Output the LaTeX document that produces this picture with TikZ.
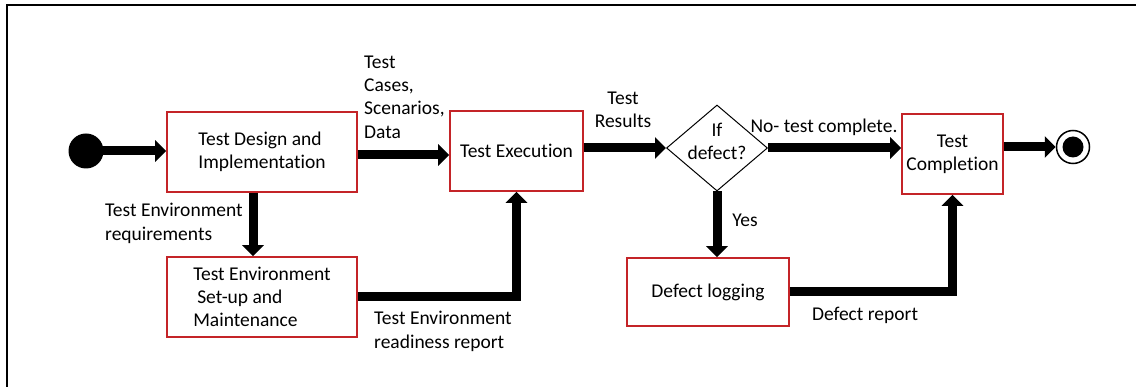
\documentclass[tikz,border=0pt]{standalone}
\usepackage{fontspec}
\setmainfont{Carlito}[Ligatures=NoCommon]
\usetikzlibrary{arrows.meta,shapes.geometric}
\definecolor{boxred}{RGB}{196,36,40}
\begin{document}
\begin{tikzpicture}[x=1pt,y=-1pt,
  every node/.style={font=\fontsize{19.5}{23.3}\selectfont},
  stepbox/.style={draw=boxred, line width=1.6pt, fill=white, inner sep=0pt, align=left},
  flow/.style={line width=9pt, -{Triangle[width=21pt,length=11pt]}},
  lbl/.style={inner sep=0pt, align=left},
]
\useasboundingbox (0,0) rectangle (1136,387);
% page frame (top and left edges)
\draw[line width=2.4pt] (1136,5) -- (7,5) -- (7,387);

% activity boxes
\node[stepbox, minimum width=190pt, minimum height=80pt] (design) at (262,152) {Test Design and\\Implementation};
\node[stepbox, minimum width=190pt, minimum height=80pt] (setup) at (262,297) {Test Environment\\\hspace{4pt}Set-up and\\Maintenance};
\node[stepbox, minimum width=133pt, minimum height=80pt] (exec) at (516.5,151) {Test Execution};
\node[stepbox, minimum width=101pt, minimum height=80pt, align=center] (comp) at (952.5,154) {Test\\Completion};
\node[stepbox, minimum width=162pt, minimum height=68pt] (defect) at (708,292) {Defect logging};

% decision
\node[diamond, draw, line width=1pt, minimum width=101pt, minimum height=86pt, inner sep=0pt] (dec) at (717,148) {};
\node[lbl, align=center] (dectext) at (717,141.5) {If\\defect?};

% start and end markers
\node[circle, fill=black, minimum size=35pt, inner sep=0pt] (start) at (86,151) {};
\node[circle, draw, line width=1.5pt, minimum size=33pt, inner sep=0pt] (stop) at (1073,147) {};
\node[circle, fill=black, minimum size=21pt, inner sep=0pt] (stopdot) at (stop) {};

% connectors
\draw[flow] (start.center) -- (start.center -| design.west);
\draw[flow] ([yshift=-3pt]design.east) -- ([yshift=-3pt]design.east -| exec.west);
\draw[flow] (exec.east |- dec.west) -- (dec.west);
\draw[flow] (dec.east) -- (dec.east -| comp.west);
\draw[flow] (comp.east |- stop.west) -- (stop.west);
\draw[flow] ([xshift=-9pt]design.south) -- ([xshift=-9pt]design.south |- setup.north);
\draw[flow] (setup.east) -| (exec.south);
\draw[flow] (dec.south) -- (dec.south |- defect.north);
\draw[flow] (defect.east) -| (comp.south);

% connector labels
\node[lbl, anchor=west] (lcases) at (364,97) {Test\\Cases,\\Scenarios,\\Data};
\node[lbl, anchor=west] (lreq) at (105,223.5) {Test Environment\\requirements};
\node[lbl, anchor=west] (lready) at (374,331.5) {Test Environment\\readiness report};
\node[lbl, align=center] (lres) at (623,109.5) {Test\\Results};
\node[lbl] (lno) at (824,127) {No- test complete.};
\node[lbl] (lyes) at (745,220) {Yes};
\node[lbl] (lrep) at (865,315) {Defect report};
\end{tikzpicture}
\end{document}
